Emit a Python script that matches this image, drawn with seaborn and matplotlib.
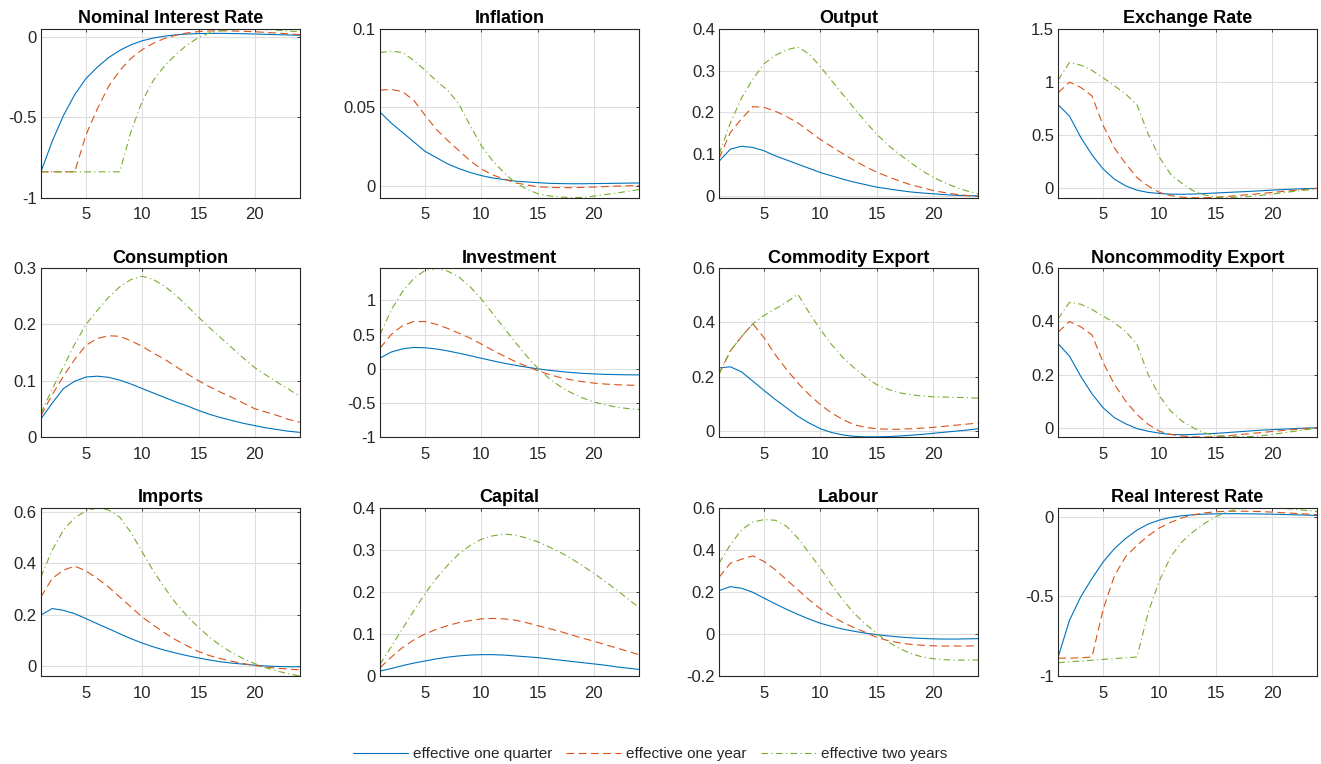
import numpy as np
import pandas as pd
import matplotlib
matplotlib.use('Agg')  # headless
import matplotlib.pyplot as plt
import seaborn as sns
from matplotlib.ticker import FormatStrFormatter

quarters = list(range(1, 25))
scenarios = ['effective one quarter', 'effective one year', 'effective two years']

# --- responses ---
nom_q = [-0.84, -0.65, -0.49, -0.36, -0.26, -0.19, -0.13, -0.085, -0.05, -0.025, -0.008, 0.004, 0.012, 0.017, 0.02, 0.021, 0.021, 0.02, 0.019, 0.017, 0.015, 0.013, 0.011, 0.009]
nom_1y = [-0.84, -0.84, -0.84, -0.84, -0.61, -0.45, -0.31, -0.21, -0.135, -0.08, -0.04, -0.01, 0.01, 0.024, 0.032, 0.036, 0.037, 0.036, 0.034, 0.031, 0.027, 0.023, 0.018, 0.013]
nom_2y = [-0.84, -0.84, -0.84, -0.84, -0.84, -0.84, -0.84, -0.84, -0.59, -0.40, -0.27, -0.18, -0.11, -0.05, -0.005, 0.025, 0.038, 0.045, 0.047, 0.047, 0.045, 0.041, 0.036, 0.031]

inf_q = [0.047, 0.040, 0.034, 0.028, 0.022, 0.018, 0.014, 0.011, 0.0085, 0.0065, 0.005, 0.004, 0.003, 0.0025, 0.002, 0.0016, 0.0014, 0.0013, 0.0013, 0.0014, 0.0015, 0.0016, 0.0017, 0.0018]
inf_1y = [0.061, 0.0615, 0.06, 0.0545, 0.045, 0.036, 0.029, 0.0225, 0.016, 0.0107, 0.007, 0.0043, 0.002, 0.0006, -0.0006, -0.001, -0.0012, -0.0012, -0.001, -0.0008, -0.0005, -0.0002, 0.0, 0.0002]
inf_2y = [0.085, 0.0859, 0.085, 0.080, 0.0737, 0.067, 0.061, 0.0523, 0.0385, 0.0256, 0.016, 0.0085, 0.002, -0.002, -0.005, -0.0064, -0.0072, -0.0075, -0.0074, -0.0066, -0.0056, -0.0046, -0.0036, -0.0024]

out_q = [0.083, 0.112, 0.119, 0.116, 0.108, 0.096, 0.086, 0.076, 0.066, 0.056, 0.048, 0.040, 0.033, 0.027, 0.021, 0.017, 0.013, 0.0095, 0.007, 0.005, 0.003, 0.0015, 0.0005, 0.0]
out_1y = [0.09, 0.152, 0.185, 0.214, 0.212, 0.203, 0.19, 0.175, 0.155, 0.135, 0.118, 0.101, 0.085, 0.07, 0.057, 0.046, 0.036, 0.027, 0.02, 0.013, 0.008, 0.004, 0.001, -0.001]
out_2y = [0.1, 0.175, 0.235, 0.28, 0.317, 0.337, 0.35, 0.357, 0.34, 0.31, 0.276, 0.243, 0.21, 0.178, 0.148, 0.122, 0.1, 0.08, 0.061, 0.045, 0.032, 0.021, 0.012, 0.005]

exr_q = [0.786, 0.68, 0.48, 0.315, 0.18, 0.085, 0.022, -0.019, -0.04, -0.05, -0.056, -0.057, -0.055, -0.05, -0.045, -0.04, -0.035, -0.03, -0.024, -0.018, -0.013, -0.008, -0.004, -0.001]
exr_1y = [0.9, 1.0, 0.95, 0.87, 0.59, 0.38, 0.23, 0.10, 0.02, -0.04, -0.07, -0.085, -0.09, -0.09, -0.085, -0.078, -0.069, -0.06, -0.05, -0.04, -0.03, -0.02, -0.011, -0.003]
exr_2y = [1.02, 1.185, 1.16, 1.11, 1.04, 0.965, 0.887, 0.786, 0.51, 0.29, 0.13, 0.045, -0.025, -0.063, -0.085, -0.088, -0.085, -0.078, -0.068, -0.055, -0.042, -0.029, -0.017, -0.006]

con_q = [0.032, 0.06, 0.086, 0.099, 0.1065, 0.108, 0.106, 0.101, 0.094, 0.086, 0.078, 0.07, 0.062, 0.055, 0.047, 0.04, 0.034, 0.029, 0.024, 0.02, 0.016, 0.013, 0.01, 0.008]
con_1y = [0.038, 0.075, 0.108, 0.138, 0.163, 0.175, 0.18, 0.179, 0.171, 0.161, 0.149, 0.138, 0.125, 0.112, 0.1, 0.089, 0.079, 0.07, 0.06, 0.05, 0.044, 0.038, 0.031, 0.026]
con_2y = [0.042, 0.085, 0.125, 0.165, 0.2, 0.225, 0.248, 0.267, 0.28, 0.286, 0.28, 0.268, 0.252, 0.233, 0.213, 0.194, 0.176, 0.158, 0.14, 0.123, 0.11, 0.097, 0.085, 0.072]

inv_q = [0.155, 0.243, 0.29, 0.31, 0.306, 0.288, 0.26, 0.226, 0.19, 0.152, 0.115, 0.08, 0.049, 0.022, -0.003, -0.024, -0.042, -0.057, -0.069, -0.078, -0.084, -0.088, -0.091, -0.092]
inv_1y = [0.3, 0.5, 0.63, 0.69, 0.69, 0.65, 0.59, 0.52, 0.447, 0.36, 0.27, 0.185, 0.105, 0.035, -0.03, -0.085, -0.13, -0.165, -0.192, -0.212, -0.226, -0.236, -0.242, -0.245]
inv_2y = [0.5, 0.86, 1.13, 1.32, 1.44, 1.47, 1.43, 1.345, 1.2, 1.02, 0.81, 0.6, 0.39, 0.19, 0.01, -0.14, -0.26, -0.355, -0.43, -0.49, -0.53, -0.565, -0.585, -0.6]

com_q = [0.232, 0.236, 0.217, 0.183, 0.148, 0.115, 0.084, 0.053, 0.028, 0.007, -0.007, -0.016, -0.021, -0.023, -0.023, -0.022, -0.02, -0.017, -0.014, -0.01, -0.006, -0.002, 0.002, 0.007]
com_1y = [0.21, 0.295, 0.348, 0.395, 0.343, 0.28, 0.226, 0.176, 0.133, 0.096, 0.065, 0.041, 0.022, 0.012, 0.007, 0.005, 0.005, 0.007, 0.009, 0.012, 0.016, 0.02, 0.024, 0.028]
com_2y = [0.21, 0.295, 0.348, 0.395, 0.426, 0.45, 0.475, 0.504, 0.436, 0.374, 0.318, 0.27, 0.232, 0.198, 0.17, 0.153, 0.14, 0.133, 0.128, 0.125, 0.124, 0.123, 0.122, 0.12]

ncx_q = [0.316, 0.27, 0.194, 0.128, 0.075, 0.038, 0.015, -0.003, -0.013, -0.02, -0.025, -0.026, -0.025, -0.023, -0.021, -0.018, -0.015, -0.012, -0.009, -0.007, -0.005, -0.003, -0.001, 0.0]
ncx_1y = [0.36, 0.4, 0.38, 0.35, 0.245, 0.163, 0.1, 0.05, 0.013, -0.013, -0.025, -0.031, -0.034, -0.035, -0.033, -0.03, -0.026, -0.022, -0.018, -0.014, -0.01, -0.006, -0.003, 0.0]
ncx_2y = [0.41, 0.472, 0.465, 0.445, 0.42, 0.395, 0.362, 0.314, 0.2, 0.12, 0.063, 0.025, 0.0, -0.019, -0.029, -0.033, -0.034, -0.033, -0.03, -0.025, -0.019, -0.013, -0.007, -0.002]

imp_q = [0.2, 0.225, 0.218, 0.205, 0.186, 0.166, 0.147, 0.127, 0.108, 0.091, 0.076, 0.063, 0.052, 0.042, 0.033, 0.025, 0.018, 0.013, 0.009, 0.005, 0.002, 0.0, -0.001, -0.001]
imp_1y = [0.27, 0.342, 0.374, 0.39, 0.371, 0.342, 0.309, 0.27, 0.231, 0.192, 0.16, 0.13, 0.103, 0.08, 0.058, 0.042, 0.03, 0.02, 0.011, 0.004, -0.002, -0.007, -0.01, -0.013]
imp_2y = [0.348, 0.452, 0.53, 0.578, 0.604, 0.616, 0.608, 0.58, 0.52, 0.445, 0.37, 0.305, 0.245, 0.195, 0.152, 0.113, 0.08, 0.053, 0.03, 0.011, -0.005, -0.018, -0.028, -0.037]

cap_q = [0.012, 0.018, 0.025, 0.031, 0.036, 0.041, 0.045, 0.048, 0.05, 0.051, 0.051, 0.05, 0.048, 0.046, 0.044, 0.041, 0.038, 0.035, 0.032, 0.029, 0.026, 0.022, 0.019, 0.016]
cap_1y = [0.02, 0.045, 0.068, 0.086, 0.1, 0.111, 0.12, 0.127, 0.132, 0.136, 0.137, 0.136, 0.133, 0.127, 0.12, 0.113, 0.106, 0.098, 0.09, 0.083, 0.075, 0.067, 0.059, 0.051]
cap_2y = [0.028, 0.07, 0.113, 0.155, 0.196, 0.232, 0.263, 0.29, 0.31, 0.325, 0.333, 0.337, 0.335, 0.328, 0.319, 0.307, 0.294, 0.279, 0.262, 0.244, 0.225, 0.205, 0.184, 0.163]

lab_q = [0.206, 0.225, 0.217, 0.198, 0.17, 0.143, 0.117, 0.093, 0.071, 0.051, 0.036, 0.023, 0.013, 0.004, -0.003, -0.009, -0.014, -0.018, -0.021, -0.023, -0.024, -0.024, -0.023, -0.022]
lab_1y = [0.27, 0.336, 0.355, 0.371, 0.344, 0.305, 0.257, 0.21, 0.162, 0.12, 0.085, 0.055, 0.03, 0.008, -0.016, -0.031, -0.042, -0.049, -0.053, -0.056, -0.057, -0.057, -0.057, -0.056]
lab_2y = [0.336, 0.424, 0.495, 0.532, 0.543, 0.54, 0.511, 0.455, 0.384, 0.313, 0.233, 0.162, 0.098, 0.048, 0.003, -0.037, -0.068, -0.092, -0.108, -0.117, -0.122, -0.124, -0.124, -0.123]

rir_q = [-0.88, -0.65, -0.503, -0.388, -0.283, -0.2, -0.136, -0.084, -0.046, -0.021, -0.004, 0.006, 0.012, 0.016, 0.018, 0.019, 0.019, 0.018, 0.017, 0.016, 0.014, 0.012, 0.01, 0.008]
rir_1y = [-0.887, -0.887, -0.885, -0.88, -0.58, -0.37, -0.25, -0.18, -0.12, -0.07, -0.035, -0.008, 0.012, 0.024, 0.031, 0.034, 0.035, 0.034, 0.032, 0.029, 0.025, 0.021, 0.017, 0.013]
rir_2y = [-0.916, -0.91, -0.905, -0.90, -0.895, -0.89, -0.885, -0.88, -0.6, -0.4, -0.25, -0.157, -0.094, -0.042, 0.0, 0.031, 0.048, 0.054, 0.056, 0.055, 0.052, 0.047, 0.04, 0.033]

# title, series, y-limits, y-ticks
panels = [
    ('Nominal Interest Rate', (nom_q, nom_1y, nom_2y), (-1, 0.048), [-1, -0.5, 0]),
    ('Inflation', (inf_q, inf_1y, inf_2y), (-0.0075, 0.1), [0, 0.05, 0.1]),
    ('Output', (out_q, out_1y, out_2y), (-0.004, 0.4), [0, 0.1, 0.2, 0.3, 0.4]),
    ('Exchange Rate', (exr_q, exr_1y, exr_2y), (-0.088, 1.5), [0, 0.5, 1, 1.5]),
    ('Consumption', (con_q, con_1y, con_2y), (0, 0.3), [0, 0.1, 0.2, 0.3]),
    ('Investment', (inv_q, inv_1y, inv_2y), (-1, 1.47), [-1, -0.5, 0, 0.5, 1]),
    ('Commodity Export', (com_q, com_1y, com_2y), (-0.023, 0.6), [0, 0.2, 0.4, 0.6]),
    ('Noncommodity Export', (ncx_q, ncx_1y, ncx_2y), (-0.034, 0.6), [0, 0.2, 0.4, 0.6]),
    ('Imports', (imp_q, imp_1y, imp_2y), (-0.0375, 0.617), [0, 0.2, 0.4, 0.6]),
    ('Capital', (cap_q, cap_1y, cap_2y), (0, 0.4), [0, 0.1, 0.2, 0.3, 0.4]),
    ('Labour', (lab_q, lab_1y, lab_2y), (-0.2, 0.6), [-0.2, 0, 0.2, 0.4, 0.6]),
    ('Real Interest Rate', (rir_q, rir_1y, rir_2y), (-1, 0.057), [-1, -0.5, 0]),
]

palette = {scenarios[0]: '#0072BD', scenarios[1]: '#D95319', scenarios[2]: '#77AC30'}
dashes = {scenarios[0]: '', scenarios[1]: (7, 4), scenarios[2]: (6, 3, 1, 3)}

sns.set_style('white')
plt.rcParams['font.family'] = ['Liberation Sans', 'DejaVu Sans']
plt.rcParams['axes.unicode_minus'] = False

fig, axes = plt.subplots(3, 4, figsize=(13.21, 7.64), dpi=100)
fig.subplots_adjust(left=0.031, right=0.997, top=0.962, bottom=0.115, wspace=0.31, hspace=0.42)

for ax, (title, series, ylim, yticks) in zip(axes.flat, panels):
    df = pd.DataFrame({
        'quarter': quarters * 3,
        'value': [v for s in series for v in s],
        'scenario': [name for name in scenarios for _ in quarters],
    })
    sns.lineplot(data=df, x='quarter', y='value', hue='scenario', style='scenario',
                 palette=palette, dashes=dashes, linewidth=0.8, legend=False, ax=ax)  # 3 lines
    ax.set_xlim(1, 24)
    ax.set_ylim(*ylim)
    ax.set_xticks([5, 10, 15, 20])
    ax.set_yticks(yticks)
    ax.yaxis.set_major_formatter(FormatStrFormatter('%g'))
    ax.set_xlabel('')
    ax.set_ylabel('')
    ax.set_title(title, fontsize=13, fontweight='bold', pad=4, color='black')
    ax.grid(True, color='#dedede', lw=0.8)
    ax.set_axisbelow(True)
    for sp in ax.spines.values():
        sp.set_color('#262626')
        sp.set_linewidth(0.8)
    ax.tick_params(direction='in', length=2.5, width=0.6, top=True, right=True,
                   colors='#262626', labelsize=12)
    ax.tick_params(axis='x', pad=7)
    ax.tick_params(axis='y', pad=3)

handles = [plt.Line2D([], [], color=palette[s], lw=0.8,
                      dashes=dashes[s] if dashes[s] else (None, None)) for s in scenarios]
handles[0].set_linestyle('-')
fig.legend(handles, scenarios, loc='center', bbox_to_anchor=(0.492, 0.013), ncol=3,
           frameon=False, fontsize=11, handlelength=3.6, handletextpad=0.35, columnspacing=0.9)

plt.savefig('out.png', dpi=100)
plt.close()
